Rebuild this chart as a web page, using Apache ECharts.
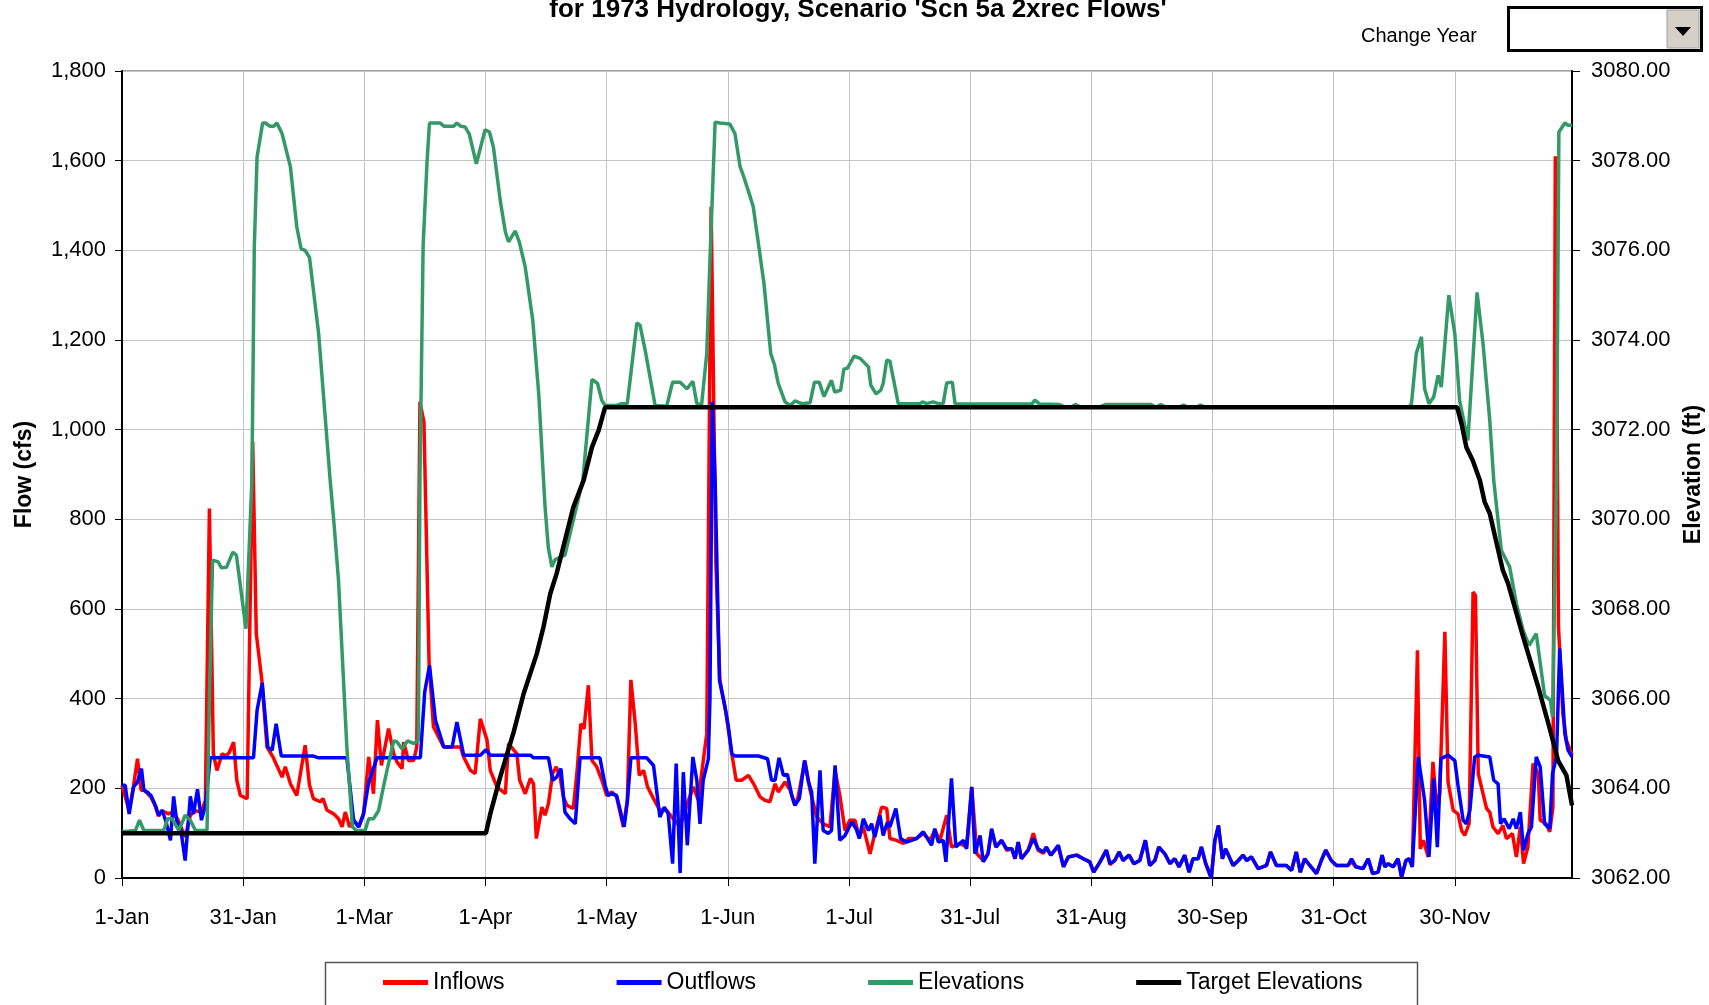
<!DOCTYPE html>
<html>
<head>
<meta charset="utf-8">
<script src="https://cdn.jsdelivr.net/npm/echarts@6/dist/echarts.min.js"></script>
<style>
html,body{margin:0;padding:0;background:#fff;}
#chart{width:1709px;height:1005px;}
</style>
</head>
<body>
<div id="chart"></div>
<script>
// ---- DATA (day-of-year, value) ----
const titleText = "for 1973 Hydrology, Scenario 'Scn 5a 2xrec Flows'";
const xTickLabels = ['1-Jan','31-Jan','1-Mar','1-Apr','1-May','1-Jun','1-Jul','31-Jul','31-Aug','30-Sep','31-Oct','30-Nov'];
const seriesNames = ['Inflows','Outflows','Elevations','Target Elevations'];

const inflows = [[0,207],[1.8,150],[2.9,205],[3.9,266],[4.8,196],[5.5,196],[6.3,190],[7.3,180],[8.4,160],[9.2,138],[10.1,150],[11.7,143],[12.6,147],[14,132],[15.9,91],[17.2,140],[18.5,150],[19.9,147],[21,173],[22,824],[23,277],[23.9,240],[25.2,277],[26.2,272],[27,280],[28.1,303],[28.9,218],[29.8,184],[31.5,177],[32.9,973],[33.8,545],[35.2,441],[36.5,292],[38,270],[40.3,225],[41.1,248],[42.4,210],[44,184],[46.1,296],[47.2,207],[48.2,177],[49.9,170],[50.6,177],[51.6,151],[53.3,143],[54.5,132],[55.4,114],[56.2,147],[57.3,114],[58.3,129],[59.6,114],[60.8,143],[62.1,270],[63.3,188],[64.3,352],[65.3,251],[67.1,333],[68.4,277],[69.2,259],[70.5,244],[70.9,303],[72.1,262],[73.4,262],[74.2,292],[75,1062],[76,1017],[77.3,480],[78.4,337],[81,292],[85.2,292],[86,270],[87.7,240],[88.9,233],[90.2,355],[91.9,307],[92.7,240],[94.4,203],[96.5,188],[97.3,300],[99.4,277],[100.1,218],[101.5,188],[102.8,222],[103.6,210],[104.3,88],[105.7,158],[106.5,140],[107.35,166],[108.4,233],[109.3,248],[110.3,225],[111.1,181],[112,162],[113.6,155],[114.5,233],[115.5,344],[116.3,333],[117.4,430],[118.3,262],[119.5,248],[120.8,218],[122,184],[123.3,192],[124.5,181],[126.2,114],[127.2,173],[128.1,442],[129.2,344],[130.2,229],[131.3,240],[132.3,203],[133.8,177],[135.4,151],[137.1,151],[138.4,136],[140.5,114],[142.6,173],[143.8,203],[145.1,173],[145.9,233],[147.2,322],[148.3,1497],[149.5,700],[150.5,441],[152,370],[153.5,277],[154.6,218],[156,218],[157.7,229],[159,210],[160.6,181],[161.9,173],[163.1,170],[164.4,210],[165.2,192],[166.9,214],[168.2,196],[169.4,162],[170.2,181],[171.9,262],[173.2,196],[174.9,136],[176.5,121],[178.2,114],[179.5,240],[180.7,184],[182,106],[183.2,129],[184.5,129],[185.6,91],[186.6,114],[188.3,54],[189.5,99],[191.2,158],[192.5,155],[193.3,88],[195,84],[196.7,77],[198,88],[200,88],[201.7,99],[203.4,84],[204.6,106],[205.9,84],[207.6,140],[208.8,69],[210.9,77],[212.6,69],[213.9,203],[215.2,54],[216.8,39],[218,54],[218.9,106],[220,69],[221.4,84],[222.7,62],[224,65],[224.8,43],[225.6,80],[226.4,43],[228.1,62],[229.4,100],[230.6,62],[231.9,55],[232.7,66],[233.8,51],[235.7,70],[237,25],[238.2,47],[240.3,51],[242,43],[243.6,36],[244.6,13],[246.2,36],[247.8,62],[248.7,30],[249.9,39],[251,58],[252,39],[253.5,51],[254.7,32],[256.2,39],[257.6,84],[258.7,28],[260,39],[261,69],[262.5,54],[263.8,32],[265,43],[266.1,25],[267.5,51],[268.6,13],[269.6,43],[270.9,43],[271.7,69],[272.8,32],[274.2,0],[275.1,84],[276,117],[277,43],[277.8,65],[279.7,28],[281,39],[282.2,51],[283.1,39],[284.3,47],[286,21],[288.1,28],[289.1,58],[290.6,28],[293.1,28],[294.4,17],[295.6,58],[296.6,13],[297.7,43],[299,28],[300.7,10],[301.9,39],[303,62],[304.4,39],[305.7,28],[308.6,28],[309.5,36],[310.6,25],[312.4,21],[313.7,43],[314.8,10],[316.2,13],[317.2,51],[317.9,25],[318.7,32],[320,25],[321.2,43],[322.1,2],[323.2,39],[324,43],[324.8,25],[326.1,508],[326.8,65],[327.6,84],[328.8,47],[330,259],[330.9,162],[331.7,188],[333,549],[333.8,214],[335.1,151],[336.3,143],[337.2,106],[338,95],[339.1,121],[340.1,638],[340.7,630],[341.4,233],[342.6,188],[343.5,155],[344.3,147],[345.1,114],[346.4,99],[347.6,117],[348.5,88],[350,99],[351,47],[352,114],[352.8,32],[353.9,69],[355.2,255],[356.5,233],[357,129],[358.5,121],[359.4,103],[360.2,158],[360.8,1610],[361.6,560],[362.7,367],[363.6,307],[365,274]];

const outflows = [[0,207],[0.8,207],[1.8,143],[2.9,203],[3.9,214],[4.9,244],[5.5,196],[6.3,192],[7.3,184],[8.4,162],[9.2,140],[10.1,151],[11.1,125],[12.2,84],[13,182],[13.8,125],[14.7,114],[15.9,39],[17.2,182],[18,143],[19,198],[20,129],[21,162],[22.2,268],[33.1,268],[34,374],[35.3,435],[36.7,292],[37.8,285],[38.8,344],[40.1,272],[48.2,272],[49.5,268],[56.6,268],[58.3,129],[59.6,114],[60.8,143],[62.1,214],[64.2,268],[75.1,268],[76.2,415],[77.4,474],[78.9,352],[81,292],[83.1,292],[84.3,348],[86,274],[90.2,274],[91.6,286],[92.7,274],[102.8,274],[103.6,268],[107.35,268],[108.4,218],[109.4,225],[110.5,244],[111.5,147],[112.8,132],[114.1,121],[115.3,268],[120.3,268],[121.6,207],[122.4,184],[123.3,188],[124.5,184],[126.4,114],[127.2,170],[128.1,268],[132.1,268],[133.8,251],[135.4,136],[136.5,158],[137.5,143],[138.6,32],[139.5,255],[140.5,11],[141.3,236],[142.3,73],[143.7,270],[144.7,218],[145.5,121],[146.3,218],[147.6,266],[148.0,400],[148.6,1062],[149.3,887],[150.4,441],[151.8,381],[152.6,340],[153.5,277],[154.3,272],[160.2,272],[162.5,266],[163.5,218],[164.4,218],[165.4,268],[166.5,229],[167.5,231],[168.6,184],[169.4,162],[170.5,177],[171.8,262],[172.8,214],[173.6,192],[174.4,32],[175.7,240],[176.5,106],[177.8,99],[178.6,106],[179.5,251],[180.7,84],[182,95],[183.7,125],[184.8,110],[185.6,88],[186.6,132],[187.9,106],[188.7,121],[189.5,91],[190.8,140],[191.6,95],[192.7,125],[193.3,114],[194.8,155],[196,88],[197.5,80],[200,88],[201.7,103],[203.8,73],[204.6,110],[205.5,80],[206.7,84],[207.4,36],[208.8,222],[209.9,69],[211.8,84],[212.6,65],[213.9,203],[214.7,54],[216,95],[216.8,36],[218,54],[218.9,110],[220,69],[221.4,84],[222.7,65],[224,65],[224.8,43],[225.6,80],[226.4,43],[228.1,62],[229.4,88],[230.6,65],[231.9,58],[232.7,69],[233.8,51],[235.7,73],[237,25],[238.2,47],[240.3,51],[242,43],[243.6,36],[244.6,13],[246.2,36],[247.8,62],[248.7,32],[249.9,39],[251,58],[252,39],[253.5,51],[254.7,32],[256.2,39],[257.6,84],[258.7,28],[260,39],[261,69],[262.5,54],[263.8,32],[265,43],[266.1,25],[267.5,51],[268.6,13],[269.6,43],[270.9,43],[271.7,69],[272.8,32],[274.2,0],[275.1,84],[276,117],[277,43],[277.8,65],[279.7,28],[281,39],[282.2,51],[283.1,39],[284.3,47],[286,21],[288.1,28],[289.1,58],[290.6,28],[293.1,28],[294.4,17],[295.6,58],[296.6,13],[297.7,43],[299,28],[300.7,10],[301.9,39],[303,62],[304.4,39],[305.7,28],[308.6,28],[309.5,43],[310.6,25],[312.4,21],[313.7,43],[314.8,10],[316.2,13],[317.2,51],[317.9,25],[318.7,32],[320,25],[321.2,43],[322.1,2],[323.2,39],[324,43],[324.8,25],[326.3,270],[327.9,173],[329,47],[330.2,222],[331.1,69],[332,266],[333.8,274],[335.5,262],[336.3,207],[337.6,129],[338.4,121],[339.3,151],[340.5,270],[341.4,274],[344.3,270],[345.3,218],[346.4,210],[347,121],[347.9,132],[349.2,110],[350.2,132],[351,110],[352,147],[352.8,62],[353.9,99],[354.8,114],[356,270],[357,248],[358.1,121],[359.4,110],[360.1,233],[361.1,270],[361.9,512],[363.2,322],[364,285],[365,270]];

const elevations = [[0,3063.03],[3.4,3063.06],[4.4,3063.29],[5.5,3063.06],[10.5,3063.06],[11.5,3063.32],[12.6,3063.32],[14.3,3063.06],[15.9,3063.4],[17.2,3063.29],[18.5,3063.06],[21.4,3063.06],[22,3066],[22.8,3069.09],[24.2,3069.05],[25,3068.92],[26.3,3068.93],[27.9,3069.27],[28.8,3069.2],[31.2,3067.56],[32.7,3070.87],[33.3,3076.07],[34,3078.08],[35.4,3078.84],[36.1,3078.84],[37.2,3078.77],[38.2,3078.77],[39,3078.84],[40.3,3078.6],[42.4,3077.86],[44,3076.52],[45.1,3076.03],[46.1,3076.0],[47.2,3075.84],[49.5,3074.14],[52.4,3070.87],[53.3,3069.98],[54.5,3068.64],[56.6,3064.92],[58,3063.14],[59,3063.06],[61.2,3063.06],[62.1,3063.32],[63.3,3063.32],[64.6,3063.51],[65.9,3064.07],[66.9,3064.48],[68.4,3065.06],[69.2,3065.04],[70.5,3064.88],[71.9,3065.06],[73.4,3065.0],[74.6,3065.07],[75.0,3070.9],[75.8,3076.1],[76.8,3078.0],[77.4,3078.84],[80.1,3078.84],[81,3078.77],[83.5,3078.77],[84.3,3078.84],[85.2,3078.77],[86.4,3078.75],[87.4,3078.6],[89.2,3077.93],[91.4,3078.69],[92.5,3078.64],[93.5,3078.3],[95.2,3077.12],[96.5,3076.41],[97.3,3076.19],[99,3076.43],[100,3076.19],[101.5,3075.63],[103.4,3074.44],[104.9,3072.8],[106.5,3070.27],[107.3,3069.38],[108.2,3068.94],[109,3069.1],[111.5,3069.2],[116,3070.87],[118.3,3073.12],[119.7,3073.03],[120.8,3072.65],[121.6,3072.54],[124.5,3072.54],[125.8,3072.58],[127.2,3072.58],[129.6,3074.38],[130.4,3074.33],[131.7,3073.77],[134.2,3072.54],[137.1,3072.52],[138.6,3073.06],[140.5,3073.06],[142.2,3072.91],[143.7,3073.08],[144.7,3072.58],[145.9,3072.56],[147.2,3073.7],[148,3075.78],[149.3,3078.86],[150.5,3078.84],[153,3078.82],[154.3,3078.6],[155.6,3077.86],[156.4,3077.67],[157.9,3077.26],[158.9,3076.97],[160.2,3076.15],[161.6,3075.26],[163.3,3073.7],[164.2,3073.46],[165.2,3073.03],[166.9,3072.62],[168.2,3072.54],[169.4,3072.64],[171.1,3072.58],[173.2,3072.6],[174.3,3073.06],[175.5,3073.06],[176.7,3072.74],[178.6,3073.1],[179.4,3072.84],[180.9,3072.88],[181.7,3073.35],[182.6,3073.37],[184.3,3073.64],[185.8,3073.59],[187.9,3073.4],[188.5,3072.99],[189.8,3072.8],[191,3072.88],[191.6,3073.03],[192.5,3073.55],[193.3,3073.53],[195.4,3072.58],[200.9,3072.58],[201.5,3072.62],[202.5,3072.58],[204.2,3072.62],[205.5,3072.58],[206.7,3072.58],[207.6,3073.04],[209,3073.06],[209.7,3072.58],[218.5,3072.57],[229,3072.57],[229.8,3072.66],[231,3072.57],[236,3072.56],[237.5,3072.5],[239,3072.5],[240,3072.56],[241.5,3072.5],[246,3072.5],[247.5,3072.56],[259,3072.56],[260.2,3072.5],[261.5,3072.56],[262.8,3072.5],[266.2,3072.5],[267.2,3072.55],[268.3,3072.5],[270.5,3072.5],[271.5,3072.55],[272.6,3072.5],[324,3072.5],[324.6,3072.58],[325.8,3073.7],[327.1,3074.07],[327.9,3072.91],[329,3072.58],[330.2,3072.73],[331.3,3073.21],[332.1,3072.95],[334,3075.0],[335.5,3074.14],[336.7,3072.65],[338.8,3071.76],[341.1,3075.06],[342.6,3073.92],[344.3,3072.21],[345.3,3070.87],[347.2,3069.31],[349.3,3068.94],[351,3068.12],[352.7,3067.52],[354.2,3067.19],[356,3067.45],[358.1,3066.07],[359.6,3065.96],[360.1,3065.59],[361.1,3070.87],[361.7,3078.64],[363.2,3078.84],[364,3078.79],[365,3078.79]];

const targetElevations = [[0,3063],[91.6,3063],[92.7,3063.43],[95.2,3064.25],[98.6,3065.26],[101.1,3066.11],[104.4,3067.0],[106.1,3067.6],[107.8,3068.34],[109.4,3068.79],[113.6,3070.27],[116.2,3070.87],[118.3,3071.61],[120,3071.99],[121.6,3072.5],[336.1,3072.5],[337.2,3072.13],[338.4,3071.61],[340,3071.32],[341.8,3070.87],[343,3070.39],[344.3,3070.13],[347.6,3068.86],[348.9,3068.57],[352.7,3067.38],[356.5,3066.26],[359.4,3065.33],[361.5,3064.62],[363.6,3064.29],[365,3063.62]];

// ---- CHART ----
const FONT = "'Liberation Sans', Arial, sans-serif";
const chart = echarts.init(document.getElementById('chart'), null, {renderer: 'canvas'});
const DAYS = 365;
const XSTEP = 30.5; // tick spacing (days) as measured on the reference axis

const option = {
  animation: false,
  backgroundColor: '#ffffff',
  textStyle: {fontFamily: FONT, color: '#000'},
  grid: {left: 122, top: 71, width: 1450, height: 807, containLabel: false, outerBoundsMode: 'none',
         show: true, borderColor: '#444', borderWidth: 1, backgroundColor: 'transparent'},
  legend: {
    left: 383, top: 971, padding: 0,
    itemWidth: 45, itemHeight: 5, itemGap: 112,
    icon: 'rect',
    textStyle: {fontSize: 23, fontFamily: FONT, color: '#000'},
    data: seriesNames
  },
  xAxis: {
    type: 'value', min: 0, max: DAYS, interval: XSTEP,
    axisLine: {show: true, onZero: false, lineStyle: {color: '#000', width: 2}},
    axisTick: {show: true, length: 8, lineStyle: {color: '#000', width: 1}},
    axisLabel: {
      margin: 29, fontSize: 22, color: '#000', fontFamily: FONT, showMaxLabel: false,
      formatter: function (v) { const i = Math.round(v / XSTEP); return (i < xTickLabels.length && v < DAYS) ? xTickLabels[i] : ''; }
    },
    splitLine: {show: true, lineStyle: {color: '#c4c4c4', width: 1}}
  },
  yAxis: [
    {
      type: 'value', min: 0, max: 1800, interval: 200, position: 'left',
      name: 'Flow (cfs)', nameLocation: 'middle', nameRotate: 90, nameGap: 86,
      nameTextStyle: {fontSize: 23, fontWeight: 'bold', color: '#000', fontFamily: FONT},
      axisLine: {show: true, lineStyle: {color: '#000', width: 2}},
      axisTick: {show: true, length: 7, lineStyle: {color: '#000'}},
      axisLabel: {margin: 16, fontSize: 22, color: '#000', fontFamily: FONT,
        formatter: function (v) { return v.toLocaleString('en-US'); }},
      splitLine: {show: true, lineStyle: {color: '#c4c4c4', width: 1}}
    },
    {
      type: 'value', min: 3062, max: 3080, interval: 2, position: 'right',
      name: 'Elevation (ft)', nameLocation: 'middle', nameRotate: 90, nameGap: 110,
      nameTextStyle: {fontSize: 23, fontWeight: 'bold', color: '#000', fontFamily: FONT},
      axisLine: {show: true, lineStyle: {color: '#000', width: 2}},
      axisTick: {show: true, length: 8, lineStyle: {color: '#000'}},
      axisLabel: {margin: 19, fontSize: 22, color: '#000', fontFamily: FONT,
        formatter: function (v) { return v.toFixed(2); }},
      splitLine: {show: false}
    }
  ],
  series: [
    {name: seriesNames[0], type: 'line', yAxisIndex: 0, data: inflows, showSymbol: false, symbol: 'none',
     lineStyle: {color: '#ff0000', width: 3.5}, itemStyle: {color: '#ff0000'}},
    {name: seriesNames[1], type: 'line', yAxisIndex: 0, data: outflows, showSymbol: false, symbol: 'none',
     lineStyle: {color: '#0000ff', width: 3.5}, itemStyle: {color: '#0000ff'}},
    {name: seriesNames[2], type: 'line', yAxisIndex: 1, data: elevations, showSymbol: false, symbol: 'none',
     lineStyle: {color: '#339966', width: 3.5}, itemStyle: {color: '#339966'}},
    {name: seriesNames[3], type: 'line', yAxisIndex: 1, data: targetElevations, showSymbol: false, symbol: 'none',
     lineStyle: {color: '#000000', width: 4.5}, itemStyle: {color: '#000000'}}
  ],
  graphic: [
    {type: 'text', z: 10,
     style: {text: titleText, x: 858, y: 10, font: "bold 26px " + FONT, fill: '#000', textAlign: 'center', textVerticalAlign: 'middle'}},
    {type: 'text', z: 10,
     style: {text: 'Change Year', x: 1361, y: 36, font: "20px " + FONT, fill: '#000', textAlign: 'left', textVerticalAlign: 'middle'}},
    {type: 'rect', z: 10, shape: {x: 1508.5, y: 7.5, width: 193, height: 43},
     style: {fill: '#ffffff', stroke: '#000', lineWidth: 3}},
    {type: 'rect', z: 11, shape: {x: 1667, y: 10, width: 32, height: 38},
     style: {fill: '#d4d0c8', stroke: '#a0a0a0', lineWidth: 1}},
    {type: 'polygon', z: 12, shape: {points: [[1675, 27], [1691, 27], [1683, 36]]},
     style: {fill: '#000'}},
    {type: 'rect', z: 5, shape: {x: 325.5, y: 962.5, width: 1092, height: 60},
     style: {fill: 'none', stroke: '#555', lineWidth: 1.5}}
  ]
};
chart.setOption(option);
</script>
</body>
</html>
